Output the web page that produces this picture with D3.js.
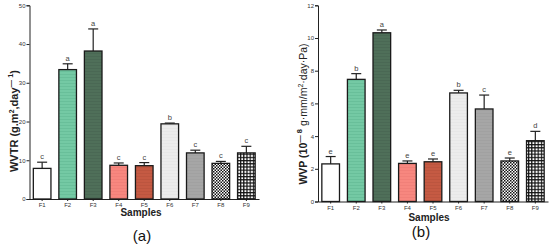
<!DOCTYPE html>
<html>
<head>
<meta charset="utf-8">
<script src="https://cdn.jsdelivr.net/npm/d3@7"></script>
<style>
  body { margin: 0; background: #fff; }
  text { font-family: "Liberation Sans", Arial, sans-serif; }
</style>
</head>
<body>
<svg id="chart" width="550" height="245"></svg>
<script>
// samples on the x axis
let samples = ["F1", "F2", "F3", "F4", "F5", "F6", "F7", "F8", "F9"];

// panel (a) WVTR
let wvtr = [7.9, 33.4, 38.2, 8.7, 8.6, 19.4, 11.9, 9.2, 11.9];
let wvtrSd = [1.6, 1.5, 5.7, 0.6, 0.8, 0.2, 0.7, 0.5, 1.7];
let wvtrLetters = ["c", "a", "a", "c", "c", "b", "c", "c", "c"];
let wvtrTicks = [0, 10, 20, 30, 40, 50];

// panel (b) WVP
let wvp = [2.3, 7.47, 10.32, 2.33, 2.43, 6.64, 5.66, 2.48, 3.72];
let wvpSd = [0.45, 0.35, 0.17, 0.15, 0.17, 0.16, 0.85, 0.18, 0.57];
let wvpLetters = ["e", "b", "a", "e", "e", "b", "c", "e", "d"];
let wvpTicks = [0, 2, 4, 6, 8, 10, 12];

let svg = d3.select("#chart");
let defs = svg.append("defs");

// horizontal line texture for the coloured bars
function stripes(id, base, line) {
    let p = defs.append("pattern").attr("id", id)
        .attr("patternUnits", "userSpaceOnUse")
        .attr("width", 6).attr("height", 3);
    p.append("rect").attr("width", 6).attr("height", 3).attr("fill", base);
    p.append("rect").attr("y", 2).attr("width", 6).attr("height", 0.6)
        .attr("fill", line).attr("opacity", 0.35);
}
stripes("pF2", "#74c9a4", "#3f9a74");
stripes("pF3", "#4f6f59", "#37503f");
stripes("pF4", "#f7877f", "#d86660");
stripes("pF5", "#c55a43", "#9e402d");
stripes("pF6", "#ececec", "#d4d4d4");
stripes("pF7", "#a6a6a6", "#909090");

// checkerboard for F8
let chk = defs.append("pattern").attr("id", "pF8")
    .attr("patternUnits", "userSpaceOnUse")
    .attr("width", 3).attr("height", 3);
chk.append("rect").attr("width", 3).attr("height", 3).attr("fill", "#fff");
chk.append("rect").attr("width", 1.5).attr("height", 1.5).attr("fill", "#111");
chk.append("rect").attr("x", 1.5).attr("y", 1.5).attr("width", 1.5).attr("height", 1.5).attr("fill", "#111");

// grid for F9
let grid = defs.append("pattern").attr("id", "pF9")
    .attr("patternUnits", "userSpaceOnUse")
    .attr("width", 3.2).attr("height", 3.2);
grid.append("rect").attr("width", 3.2).attr("height", 3.2).attr("fill", "#111");
grid.append("rect").attr("x", 1.2).attr("y", 1.2).attr("width", 2).attr("height", 2).attr("fill", "#fff");

let fills = ["#fff", "url(#pF2)", "url(#pF3)", "url(#pF4)", "url(#pF5)",
             "url(#pF6)", "url(#pF7)", "url(#pF8)", "url(#pF9)"];

function drawPanel(opt) {
    let g = svg.append("g");

    let x = d3.scaleBand()
        .domain(samples)
        .range([opt.left, opt.right])
        .paddingInner(0.31)
        .paddingOuter(0.15);

    let y = d3.scaleLinear()
        .domain([0, opt.max])
        .range([opt.bottom, opt.top]);

    // y axis
    let yAxis = g.append("g")
        .attr("transform", `translate(${opt.left},0)`)
        .call(d3.axisLeft(y).tickValues(opt.ticks).tickSize(3).tickPadding(1));
    yAxis.select(".domain").attr("stroke", "#222").attr("stroke-width", 1);
    yAxis.selectAll(".tick line").attr("stroke", "#222");
    yAxis.selectAll(".tick text").style("font-size", "6px").attr("fill", "#333");

    // x axis
    let xAxis = g.append("g")
        .attr("transform", `translate(0,${opt.bottom})`)
        .call(d3.axisBottom(x).tickSize(2).tickPadding(2).tickSizeOuter(0));
    xAxis.select(".domain").attr("stroke", "#222").attr("stroke-width", 1);
    xAxis.selectAll(".tick line").attr("stroke", "#222");
    xAxis.selectAll(".tick text").style("font-size", "6px").attr("fill", "#333");

    // error bars (upper only)
    let bw = x.bandwidth();
    samples.forEach(function(s, i) {
        let cx = x(s) + bw / 2;
        let top = y(opt.values[i] + opt.sd[i]);
        g.append("line")
            .attr("x1", cx).attr("x2", cx)
            .attr("y1", y(opt.values[i])).attr("y2", top)
            .attr("stroke", "#222").attr("stroke-width", 1.2);
        g.append("line")
            .attr("x1", cx - 5).attr("x2", cx + 5)
            .attr("y1", top).attr("y2", top)
            .attr("stroke", "#222").attr("stroke-width", 1.2);
        g.append("text")
            .attr("x", cx).attr("y", top - 3)
            .attr("text-anchor", "middle")
            .style("font-size", "7.5px").attr("fill", "#444")
            .text(opt.letters[i]);
    });

    // bars
    g.selectAll(".bar")
        .data(opt.values)
        .join("rect")
        .attr("class", "bar")
        .attr("x", (d, i) => x(samples[i]))
        .attr("y", d => y(d))
        .attr("width", bw)
        .attr("height", d => opt.bottom - y(d))
        .attr("fill", (d, i) => fills[i])
        .attr("stroke", "#1a1a1a")
        .attr("stroke-width", 1.3);

    // x title
    g.append("text")
        .attr("x", opt.samplesX).attr("y", opt.samplesY)
        .attr("text-anchor", "middle")
        .style("font-size", "10px").style("font-weight", "bold").attr("fill", "#222")
        .text("Samples");

    // panel letter
    g.append("text")
        .attr("x", opt.panelX).attr("y", opt.panelY)
        .attr("text-anchor", "middle")
        .style("font-size", "15px").attr("fill", "#111")
        .text(opt.panel);

    return g;
}

let ga = drawPanel({
    left: 29.5, right: 259, top: 5.3, bottom: 199, max: 50,
    values: wvtr, sd: wvtrSd, letters: wvtrLetters, ticks: wvtrTicks,
    samplesX: 141, samplesY: 216, panelX: 142, panelY: 241, panel: "(a)"
});

let gb = drawPanel({
    left: 318, right: 548, top: 5.3, bottom: 201.5, max: 12,
    values: wvp, sd: wvpSd, letters: wvpLetters, ticks: wvpTicks,
    samplesX: 429, samplesY: 221, panelX: 421, panelY: 237, panel: "(b)"
});

// y titles
let ta = ga.append("text")
    .attr("transform", "translate(18,121) rotate(-90)")
    .attr("text-anchor", "middle")
    .style("font-size", "11px").style("font-weight", "bold").attr("fill", "#222");
ta.append("tspan").text("WVTR (g.m");
ta.append("tspan").attr("dy", -4).style("font-size", "7px").text("2");
ta.append("tspan").attr("dy", 4).text(",day");
ta.append("tspan").attr("dy", -5).style("font-size", "7.5px").text("\u2014 1");
ta.append("tspan").attr("dy", 5).text(")");

let tb = gb.append("text")
    .attr("transform", "translate(307,114) rotate(-90)")
    .attr("text-anchor", "middle")
    .style("font-size", "10.5px").attr("fill", "#222");
tb.append("tspan").style("font-weight", "bold").text("WVP (10");
tb.append("tspan").attr("dy", -5).style("font-size", "7.5px").style("font-weight", "bold").text("\u2014 8");
tb.append("tspan").attr("dy", 5).text(" g\u00b7mm/m");
tb.append("tspan").attr("dy", -4).style("font-size", "7px").text("2");
tb.append("tspan").attr("dy", 4).text("\u00b7day\u00b7Pa)");
</script>
</body>
</html>
